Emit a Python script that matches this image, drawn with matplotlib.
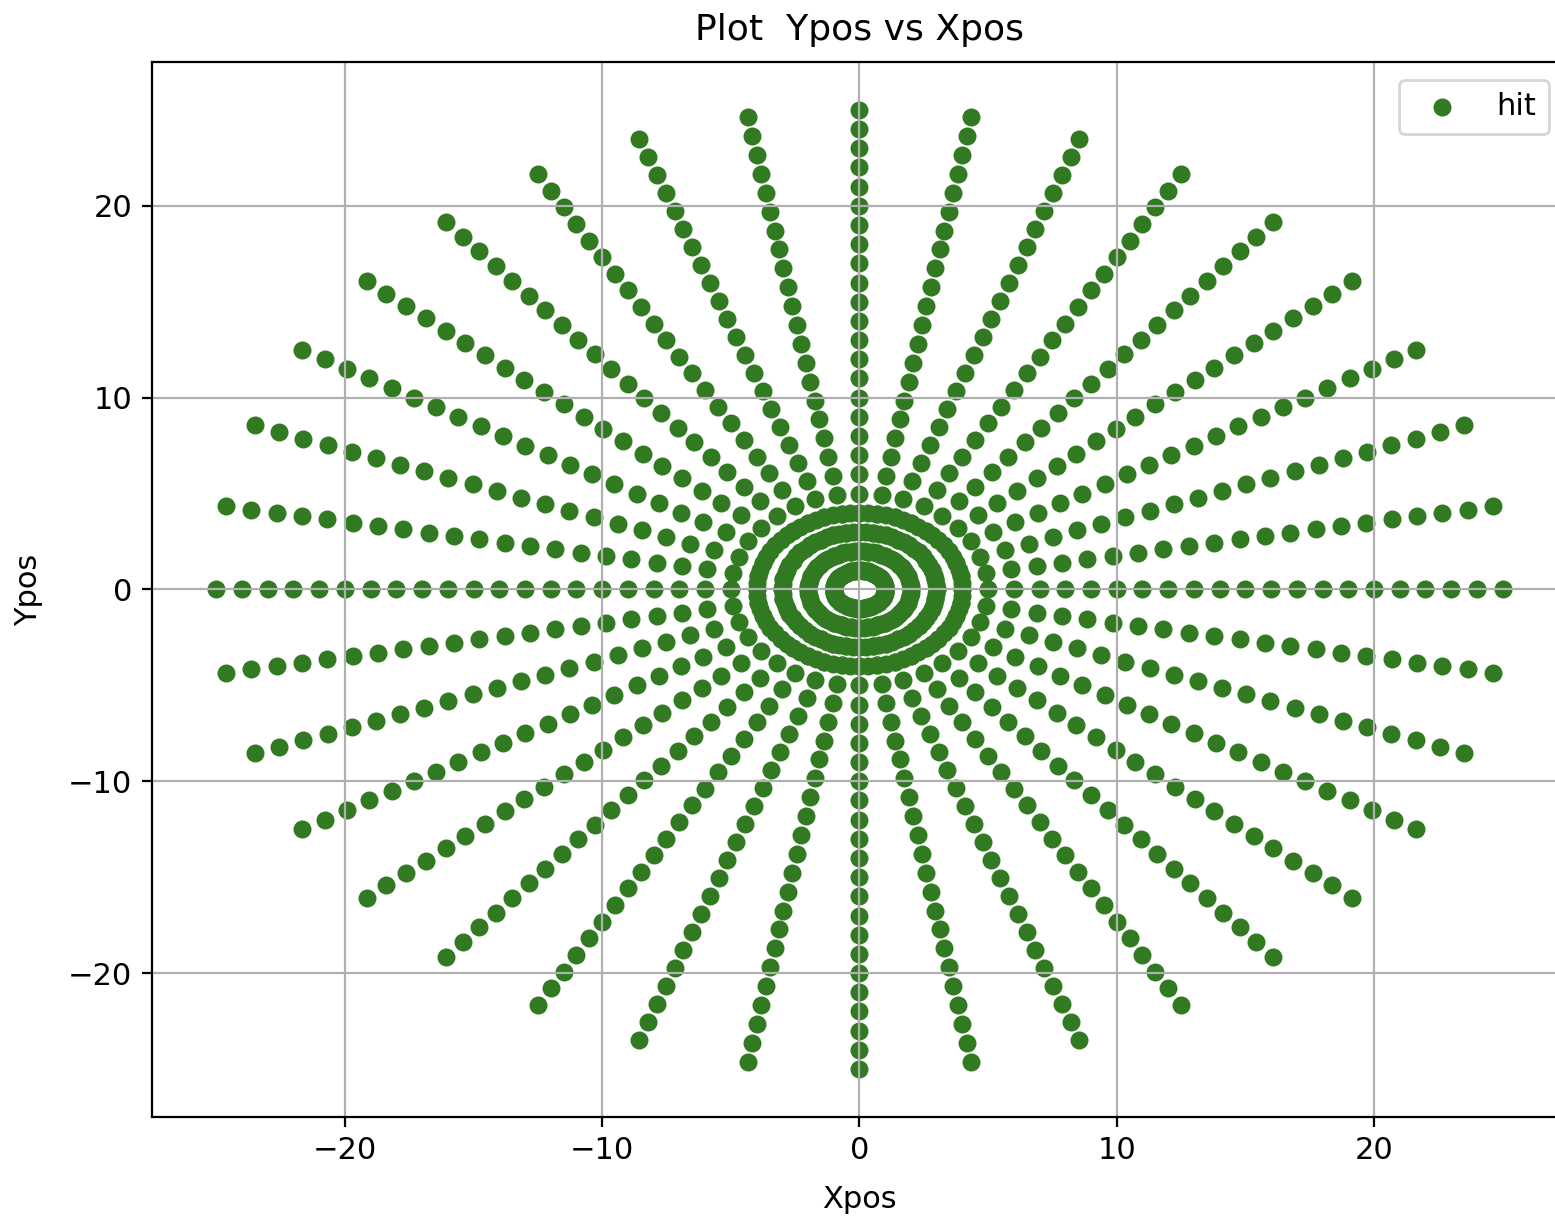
import matplotlib
matplotlib.use("Agg")
import matplotlib.pyplot as plt
import numpy as np

# spokes: one every 10 degrees, hits at every unit of radius out to 25
spoke_angles_deg = [0, 10, 20, 30, 40, 50, 60, 70, 80, 90, 100, 110,
                    120, 130, 140, 150, 160, 170, 180, 190, 200, 210, 220, 230,
                    240, 250, 260, 270, 280, 290, 300, 310, 320, 330, 340, 350]
spoke_radii = [1, 2, 3, 4, 5, 6, 7, 8, 9, 10, 11, 12, 13,
               14, 15, 16, 17, 18, 19, 20, 21, 22, 23, 24, 25]

# dense inner rings
ring_radii = [1, 2, 3, 4]
ring_points = 72

xs, ys = [], []
for a in spoke_angles_deg:
    for r in spoke_radii:
        xs.append(r * np.cos(np.radians(a)))
        ys.append(r * np.sin(np.radians(a)))
for r in ring_radii:
    for k in range(ring_points):
        a = 2 * np.pi * k / ring_points
        xs.append(r * np.cos(a))
        ys.append(r * np.sin(a))

plt.rcParams["font.size"] = 11

fig = plt.figure(figsize=(7.775, 6.095), dpi=200)
ax = fig.add_axes([0.0977, 0.0837, 0.910, 0.8655])
ax.scatter(xs, ys, s=30, color="#317a22", label="hit")
ax.set_xlim(-27.5, 27.5)
ax.set_ylim(-27.5, 27.5)
ax.set_xticks([-20, -10, 0, 10, 20])
ax.set_yticks([-20, -10, 0, 10, 20])
ax.grid(True)
ax.set_xlabel("Xpos", labelpad=7)
ax.set_ylabel("Ypos", labelpad=9)
ax.set_title("Plot  Ypos vs Xpos", fontsize=13, pad=8)
ax.legend(loc="upper right", borderaxespad=0.6)

fig.savefig("out.png", dpi=200)
